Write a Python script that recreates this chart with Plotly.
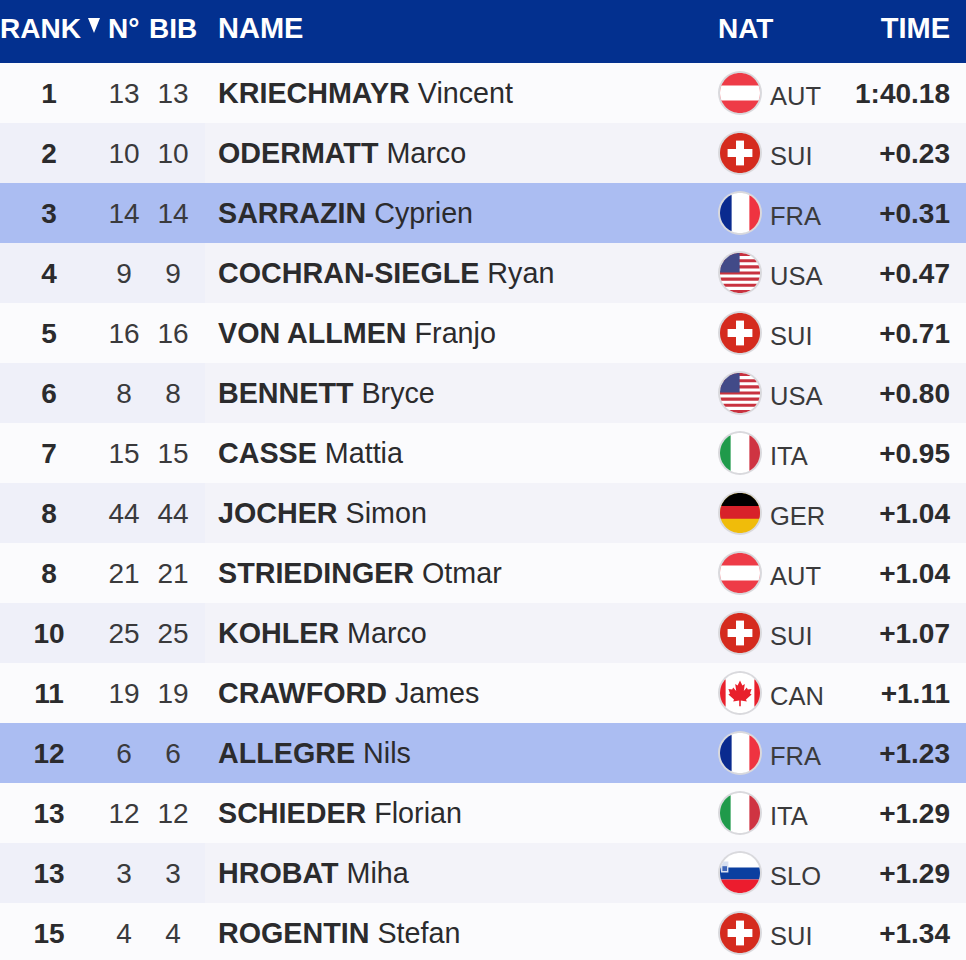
import math
import plotly.graph_objects as go

# Race results
ranks = [1, 2, 3, 4, 5, 6, 7, 8, 8, 10, 11, 12, 13, 13, 15]
numbers = [13, 10, 14, 9, 16, 8, 15, 44, 21, 25, 19, 6, 12, 3, 4]
bibs = [13, 10, 14, 9, 16, 8, 15, 44, 21, 25, 19, 6, 12, 3, 4]
surnames = ['KRIECHMAYR', 'ODERMATT', 'SARRAZIN', 'COCHRAN-SIEGLE', 'VON ALLMEN', 'BENNETT', 'CASSE',
            'JOCHER', 'STRIEDINGER', 'KOHLER', 'CRAWFORD', 'ALLEGRE', 'SCHIEDER', 'HROBAT', 'ROGENTIN']
firstnames = ['Vincent', 'Marco', 'Cyprien', 'Ryan', 'Franjo', 'Bryce', 'Mattia',
              'Simon', 'Otmar', 'Marco', 'James', 'Nils', 'Florian', 'Miha', 'Stefan']
nats = ['AUT', 'SUI', 'FRA', 'USA', 'SUI', 'USA', 'ITA', 'GER', 'AUT', 'SUI', 'CAN', 'FRA', 'ITA', 'SLO', 'SUI']
times = ['1:40.18', '+0.23', '+0.31', '+0.47', '+0.71', '+0.80', '+0.95', '+1.04',
         '+1.04', '+1.07', '+1.11', '+1.23', '+1.29', '+1.29', '+1.34']
# 'w' plain, 'a' alternate, 'h' highlighted
row_kinds = ['w', 'a', 'h', 'a', 'w', 'a', 'w', 'a', 'w', 'a', 'w', 'h', 'w', 'a', 'w']
kind_colors = {'w': '#fbfbfd', 'a': '#f3f3f9', 'h': '#abbdf2'}
left_colors = {'w': '#fbfbfd', 'a': '#eff0f9', 'h': '#abbdf2'}

HEADER_H = 63
ROW_H = 60
LEFT_W = 205
FLAG_X = 740
FLAG_R = 20
TEXT = '#2b2b2d'
FONT = 'Liberation Sans'
SIZE = 28

row_y = [HEADER_H + ROW_H * (i + 0.5) for i in range(len(ranks))]


def circle_points(n=64):
    return [(math.cos(2 * math.pi * k / n), math.sin(2 * math.pi * k / n)) for k in range(n)]


def clip(poly, axis, limit, keep_low):
    # one pass of polygon clipping against a vertical or horizontal line
    out = []
    for k, p in enumerate(poly):
        q = poly[(k + 1) % len(poly)]
        p_in = p[axis] <= limit if keep_low else p[axis] >= limit
        q_in = q[axis] <= limit if keep_low else q[axis] >= limit
        if p_in:
            out.append(p)
        if p_in != q_in:
            t = (limit - p[axis]) / (q[axis] - p[axis])
            out.append((p[0] + t * (q[0] - p[0]), p[1] + t * (q[1] - p[1])))
    return out


def to_path(poly, cy, r=FLAG_R):
    pts = ['%.2f,%.2f' % (FLAG_X + x * r, cy + y * r) for x, y in poly]
    return 'M' + 'L'.join(pts) + 'Z'


def band(cy, color, x0=-1, x1=1, y0=-1, y1=1):
    # rectangle (in flag radii) cut to the round flag
    poly = circle_points()
    poly = clip(poly, 0, x0, False)
    poly = clip(poly, 0, x1, True)
    poly = clip(poly, 1, y0, False)
    poly = clip(poly, 1, y1, True)
    return dict(type='path', path=to_path(poly, cy), fillcolor=color, line_width=0, layer='above')


def shape_poly(cy, pts, color):
    return dict(type='path', path=to_path(pts, cy), fillcolor=color, line_width=0, layer='above')


LEAF = [(0, -.62), (.12, -.38), (.24, -.45), (.19, -.1), (.34, -.27), (.39, -.17), (.58, -.2), (.5, .02),
        (.58, .07), (.3, .32), (.34, .43), (.04, .38), (.04, .66), (-.04, .66), (-.04, .38), (-.34, .43),
        (-.3, .32), (-.58, .07), (-.5, .02), (-.58, -.2), (-.39, -.17), (-.34, -.27), (-.19, -.1), (-.24, -.45),
        (-.12, -.38)]


def flag_shapes(nat, cy):
    if nat == 'AUT':
        return [band(cy, '#ee3b47'), band(cy, '#ffffff', y0=-.37, y1=.37)]
    if nat == 'SUI':
        return [band(cy, '#d52b1e'),
                band(cy, '#ffffff', x0=-.62, x1=.62, y0=-.2, y1=.2),
                band(cy, '#ffffff', x0=-.2, x1=.2, y0=-.62, y1=.62)]
    if nat == 'FRA':
        return [band(cy, '#ffffff'), band(cy, '#0a2a8f', x1=-.42), band(cy, '#ef3340', x0=.47)]
    if nat == 'ITA':
        return [band(cy, '#ffffff'), band(cy, '#1f9a4a', x1=-.47), band(cy, '#cf3442', x0=.47)]
    if nat == 'GER':
        return [band(cy, '#f0bc0a'), band(cy, '#000000', y1=-.35), band(cy, '#d8212a', y0=-.35, y1=.29)]
    if nat == 'SLO':
        return [band(cy, '#ffffff'), band(cy, '#0b3fa0', y0=-.27, y1=.33), band(cy, '#ec1c2e', y0=.33),
                band(cy, '#d8e0f0', x0=-.95, x1=-.58, y0=-.58, y1=-.02),
                band(cy, '#3f66b8', x0=-.88, x1=-.65, y0=-.34, y1=-.1)]
    if nat == 'CAN':
        return [band(cy, '#ffffff'), band(cy, '#e8202c', x1=-.72), band(cy, '#e8202c', x0=.72),
                shape_poly(cy, LEAF, '#e8202c')]
    if nat == 'USA':
        out = [band(cy, '#ffffff')]
        for k in range(7):
            top = -1 + k * 2 / 6.5
            out.append(band(cy, '#c8323f', y0=top, y1=top + 1 / 6.5))
        out.append(band(cy, '#424a88', x1=-.02, y1=-.02))
        return out
    return []


fig = go.Figure()

# row backgrounds and header
fig.add_trace(go.Bar(y=row_y, x=[966] * len(row_y), base=0, orientation='h', width=ROW_H,
                     marker=dict(color=[kind_colors[k] for k in row_kinds], line_width=0), hoverinfo='skip'))
fig.add_trace(go.Bar(y=row_y, x=[LEFT_W] * len(row_y), base=0, orientation='h', width=ROW_H,
                     marker=dict(color=[left_colors[k] for k in row_kinds], line_width=0), hoverinfo='skip'))
fig.add_trace(go.Bar(y=[HEADER_H / 2], x=[966], base=0, orientation='h', width=HEADER_H,
                     marker=dict(color='#03308f', line_width=0), hoverinfo='skip'))


def column(x, labels, position, dy=3, size=SIZE, color=TEXT):
    fig.add_trace(go.Scatter(x=[x] * len(labels), y=[y + dy for y in row_y], mode='text', text=labels,
                             textposition=position, textfont=dict(family=FONT, size=size, color=color),
                             hoverinfo='skip'))


column(49, ['<b>%d</b>' % r for r in ranks], 'middle center')
column(124, [str(n) for n in numbers], 'middle center', color='#3a3a3c')
column(173, [str(b) for b in bibs], 'middle center', color='#3a3a3c')
column(218, ['<b>%s</b> %s' % (s, f) for s, f in zip(surnames, firstnames)], 'middle right', size=28.7)
column(770, nats, 'middle right', dy=6, size=25.5, color='#3a3a3c')
column(950, ['<b>%s</b>' % t for t in times], 'middle left')

# header labels
header_labels = ['RANK', 'N°', 'BIB', 'NAT']
header_x = [0, 108, 149, 718]
fig.add_trace(go.Scatter(x=header_x, y=[31] * 4, mode='text', text=['<b>%s</b>' % h for h in header_labels],
                         textposition='middle right', textfont=dict(family=FONT, size=SIZE, color='white'),
                         hoverinfo='skip'))
fig.add_trace(go.Scatter(x=[218], y=[31], mode='text', text=['<b>NAME</b>'], textposition='middle right',
                         textfont=dict(family=FONT, size=29, color='white'), hoverinfo='skip'))
fig.add_trace(go.Scatter(x=[950], y=[31], mode='text', text=['<b>TIME</b>'], textposition='middle left',
                         textfont=dict(family=FONT, size=29, color='white'), hoverinfo='skip'))

# flags
shapes = [dict(type='path', path='M88,18L100,18L94,33Z', fillcolor='white', line_width=0, layer='above')]
for nat, cy in zip(nats, row_y):
    shapes.append(dict(type='circle', xref='x', yref='y', x0=FLAG_X - 22, x1=FLAG_X + 22, y0=cy - 22, y1=cy + 22,
                       fillcolor='#d9d9dd', line_width=0, layer='above'))
    shapes.extend(flag_shapes(nat, cy))

fig.update_layout(width=966, height=960, margin=dict(l=0, r=0, t=0, b=0), showlegend=False,
                  paper_bgcolor='#fbfbfd', plot_bgcolor='#fbfbfd', barmode='overlay', shapes=shapes,
                  xaxis=dict(range=[0, 966], visible=False, fixedrange=True),
                  yaxis=dict(range=[960, 0], visible=False, fixedrange=True))

fig.write_html('out.html', config={'displayModeBar': False}, post_script="document.body.style.margin='0';")
